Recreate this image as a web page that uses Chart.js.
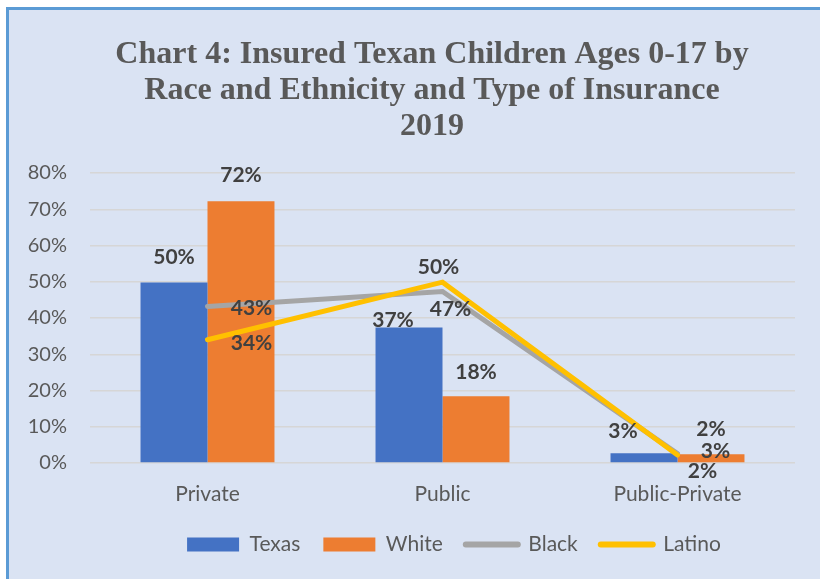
<!DOCTYPE html>
<html>
<head>
<meta charset="utf-8">
<script src="https://cdn.jsdelivr.net/npm/chart.js@4"></script>
<style>
  html, body { margin: 0; padding: 0; background: #fff; overflow: hidden; }
  #box {
    position: absolute; left: 6px; top: 7px;
    width: 811px; height: 569px;
    border-left: 3px solid #5b9bd5; border-top: 3px solid #5b9bd5;
    background: #dae3f3;
  }
</style>
</head>
<body>
<div id="box"><canvas id="chart" width="811" height="569"></canvas></div>
<script>
'use strict';

// data (percent)
const categories = ['Private', 'Public', 'Public-Private'];
const texas = [49.8, 37.4, 2.7];
const white = [72.2, 18.4, 2.4];
const black = [43.2, 47.3, 2.6];
const latino = [34.0, 49.9, 2.2];
const yTicks = [0, 10, 20, 30, 40, 50, 60, 70, 80];

// where each value label sits relative to its bar top / line point
const labelShift = {
  Texas: [[0, -25], [-16, -7], [-21, -22]],
  White: [[0, -26], [0, -24], [0, -25]],
  Black: [[44, 2], [8, 18], [38, -2]],
  Latino: [[44, 3], [-4, -15], [25, 16]]
};

const textGray = '#595959';
const sans = 'Lato, "Noto Sans", sans-serif';

const valueLabels = {
  id: 'valueLabels',
  afterDatasetsDraw(chart) {
    const ctx = chart.ctx;
    ctx.save();
    ctx.font = 'bold 21px ' + sans;
    ctx.fillStyle = '#404040';
    ctx.textAlign = 'center';
    ctx.textBaseline = 'middle';
    chart.data.datasets.forEach((ds, i) => {
      const meta = chart.getDatasetMeta(i);
      meta.data.forEach((el, j) => {
        const off = labelShift[ds.label][j];
        ctx.fillText(Math.round(ds.data[j]) + '%', el.x + off[0], el.y + off[1]);
      });
    });
    ctx.restore();
  }
};

// Excel didn't centre title / legend on the full width, nudge them right
const nudge = {
  id: 'nudge',
  afterUpdate(chart) {
    chart.titleBlock.left += 45;
    chart.legend.left += 89;
  }
};

const canvasEl = document.getElementById('chart');

new Chart(canvasEl, {
  type: 'bar',
  data: {
    labels: categories,
    datasets: [{
      label: 'Texas',
      data: texas,
      backgroundColor: '#4472c4',
      order: 2
    }, {
      label: 'White',
      data: white,
      backgroundColor: '#ed7d31',
      order: 2
    }, {
      type: 'line',
      label: 'Black',
      data: black,
      borderColor: '#a5a5a5',
      borderWidth: 5,
      borderCapStyle: 'round',
      pointRadius: 0,
      order: 1
    }, {
      type: 'line',
      label: 'Latino',
      data: latino,
      borderColor: '#ffc000',
      borderWidth: 5,
      borderCapStyle: 'round',
      pointRadius: 0,
      order: 0
    }]
  },
  options: {
    responsive: false,
    animation: false,
    categoryPercentage: 0.57,
    barPercentage: 1,
    layout: { padding: { left: 15, right: 25, top: 17, bottom: 14 } },
    plugins: {
      tooltip: { enabled: false },
      title: {
        display: true,
        text: ['Chart 4: Insured Texan Children Ages 0-17 by', 'Race and Ethnicity and Type of Insurance', '2019'],
        color: textGray,
        font: { family: '"Liberation Serif", "Times New Roman", serif', size: 32, weight: 'bold', lineHeight: 1.125 },
        padding: { top: 10, bottom: 28 }
      },
      legend: {
        position: 'bottom',
        labels: {
          color: textGray,
          font: { family: sans, size: 21 },
          usePointStyle: true,
          pointStyleWidth: 52,
          boxHeight: 14,
          padding: 23,
          sort: (a, b) => a.datasetIndex - b.datasetIndex,
          generateLabels(chart) {
            const items = Chart.defaults.plugins.legend.labels.generateLabels(chart);
            items.forEach(it => {
              const ds = chart.data.datasets[it.datasetIndex];
              if (ds.type === 'line') {
                it.pointStyle = 'line';
                it.strokeStyle = ds.borderColor;
                it.lineWidth = 6;
                it.lineCap = 'round';
              } else {
                it.pointStyle = 'rect';
                it.fillStyle = ds.backgroundColor;
                it.lineWidth = 0;
              }
            });
            return items;
          }
        }
      }
    },
    scales: {
      x: {
        grid: { display: false },
        border: { display: false },
        ticks: { color: textGray, font: { family: sans, size: 21 }, padding: 11 },
        afterFit(axis) { axis.height = 48; }
      },
      y: {
        min: 0,
        max: 80,
        afterBuildTicks(axis) { axis.ticks = yTicks.map(v => ({ value: v })); },
        grid: { color: '#d6d6d6', lineWidth: 1.5, drawTicks: false },
        border: { display: false },
        ticks: {
          color: textGray,
          font: { family: sans, size: 20 },
          padding: 23,
          callback: v => v + '%'
        },
        afterFit(axis) { axis.width = 66; }
      }
    }
  },
  plugins: [valueLabels, nudge]
});
</script>
</body>
</html>
